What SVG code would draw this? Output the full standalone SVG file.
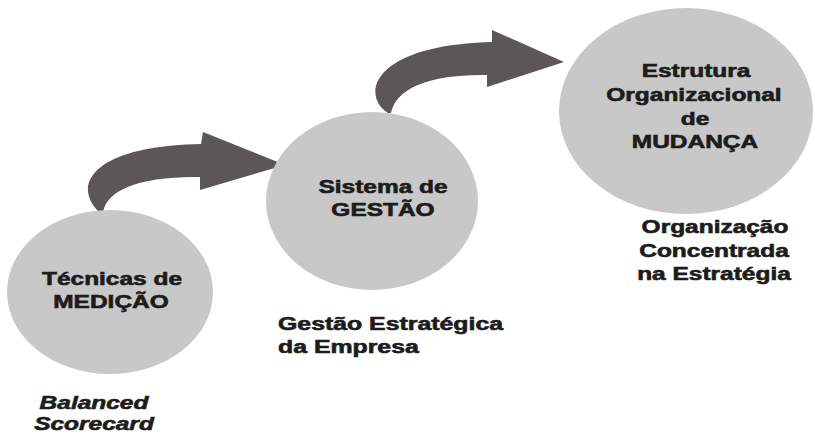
<svg xmlns="http://www.w3.org/2000/svg" width="815" height="435" viewBox="0 0 815 435">
<style>
.node{fill:#c8c8c8;stroke:none}
.arrow{fill:#5b5757;stroke:none}
.t{font-family:"Liberation Sans",Arial,sans-serif;font-weight:bold;font-size:18px;fill:#1c1c1c;stroke:#1c1c1c;stroke-width:0.6px;text-anchor:middle}
.l{text-anchor:start}
.i{font-style:italic}
</style>
<rect width="815" height="435" fill="#ffffff"/>
<g id="connectors">
<path class="arrow" d="M100 213 C72 188 88 146 201 144 L203 132 L285 165 L200 190 L200 177 C140 176 106 190 103 213 Z"/>
<path class="arrow" d="M388 113 C360 95 372 45 492 42 L492 30 L564 62 L487 87 L487 75 C430 74 396 88 391 113 Z"/>
</g>
<g id="node-medicao">
<ellipse class="node" cx="110" cy="292" rx="103" ry="82"/>
<text class="t" transform="translate(112,285) scale(1.36,1)">Técnicas de</text>
<text class="t" transform="translate(111,308) scale(1.36,1)">MEDIÇÃO</text>
<text class="t i" transform="translate(94,409) scale(1.36,1)">Balanced</text>
<text class="t i" transform="translate(94,430) scale(1.36,1)">Scorecard</text>
</g>
<g id="node-gestao">
<ellipse class="node" cx="372" cy="201" rx="106" ry="89"/>
<text class="t" transform="translate(383,193) scale(1.36,1)">Sistema de</text>
<text class="t" transform="translate(383,216) scale(1.36,1)">GESTÃO</text>
<text class="t l" transform="translate(278,330) scale(1.38,1)">Gestão Estratégica</text>
<text class="t l" transform="translate(278,353) scale(1.38,1)">da Empresa</text>
</g>
<g id="node-mudanca">
<ellipse class="node" cx="686" cy="111" rx="127" ry="103"/>
<text class="t" transform="translate(696,77) scale(1.36,1)">Estrutura</text>
<text class="t" transform="translate(694,101) scale(1.36,1)">Organizacional</text>
<text class="t" transform="translate(695,125) scale(1.36,1)">de</text>
<text class="t" transform="translate(695,148) scale(1.36,1)">MUDANÇA</text>
<text class="t" transform="translate(715,233) scale(1.36,1)">Organização</text>
<text class="t" transform="translate(714,257) scale(1.36,1)">Concentrada</text>
<text class="t" transform="translate(714,280) scale(1.36,1)">na Estratégia</text>
</g>
</svg>
